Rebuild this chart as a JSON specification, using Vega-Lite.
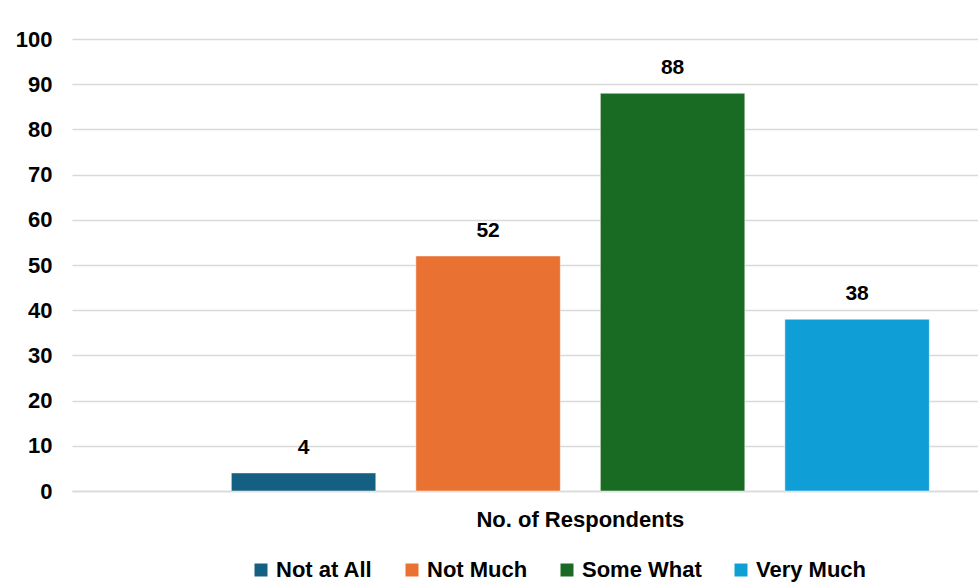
{
  "$schema": "https://vega.github.io/schema/vega-lite/v6.json",
  "width": 906,
  "height": 452,
  "autosize": {"type": "none"},
  "padding": {"left": 72, "top": 39, "right": 0, "bottom": 93},
  "background": "white",
  "config": {"view": {"stroke": null}, "font": "Liberation Sans"},
  "data": {"values": [
    {"group": "No. of Respondents", "response": "Not at All", "count": 4},
    {"group": "No. of Respondents", "response": "Not Much", "count": 52},
    {"group": "No. of Respondents", "response": "Some What", "count": 88},
    {"group": "No. of Respondents", "response": "Very Much", "count": 38}
  ]},
  "encoding": {
    "x": {"field": "group", "type": "nominal",
      "scale": {"paddingInner": 0, "paddingOuter": 0.149, "align": 0.766},
      "axis": {"title": null, "labelAngle": 0, "labelFontSize": 22, "labelFontWeight": "bold", "labelColor": "#000", "labelLimit": 500, "ticks": false, "domain": true, "domainColor": "#d9d9d9", "domainWidth": 1.5, "labelPadding": 18}},
    "xOffset": {"field": "response", "type": "nominal", "sort": ["Not at All", "Not Much", "Some What", "Very Much"],
      "scale": {"paddingInner": 0.217, "paddingOuter": 0}},
    "y": {"field": "count", "type": "quantitative",
      "scale": {"domain": [0, 100]},
      "axis": {"title": null, "values": [0,10,20,30,40,50,60,70,80,90,100], "labelFontSize": 22, "labelFontWeight": "bold", "labelColor": "#000", "ticks": false, "tickSize": 0, "domain": false, "labelPadding": 20, "gridColor": "#d9d9d9", "gridWidth": 1.5}}
  },
  "layer": [
    {"mark": {"type": "bar", "stroke": "white", "strokeWidth": 0.5},
     "encoding": {"color": {"field": "response", "type": "nominal", "sort": ["Not at All", "Not Much", "Some What", "Very Much"],
       "scale": {"domain": ["Not at All", "Not Much", "Some What", "Very Much"], "range": ["#156082", "#e97132", "#196b24", "#0f9ed5"]},
       "legend": {"title": null, "orient": "none", "legendX": 178, "legendY": 520, "direction": "horizontal", "symbolType": "square", "symbolSize": 169, "labelFontSize": 22, "labelFontWeight": "bold", "labelColor": "#000", "columnPadding": 28, "labelOffset": 4, "symbolStrokeWidth": 0, "padding": 0}}}},
    {"mark": {"type": "text", "dy": -25, "fontSize": 21, "fontWeight": "bold", "color": "#000"},
     "encoding": {"text": {"field": "count", "type": "quantitative"}}}
  ]
}
